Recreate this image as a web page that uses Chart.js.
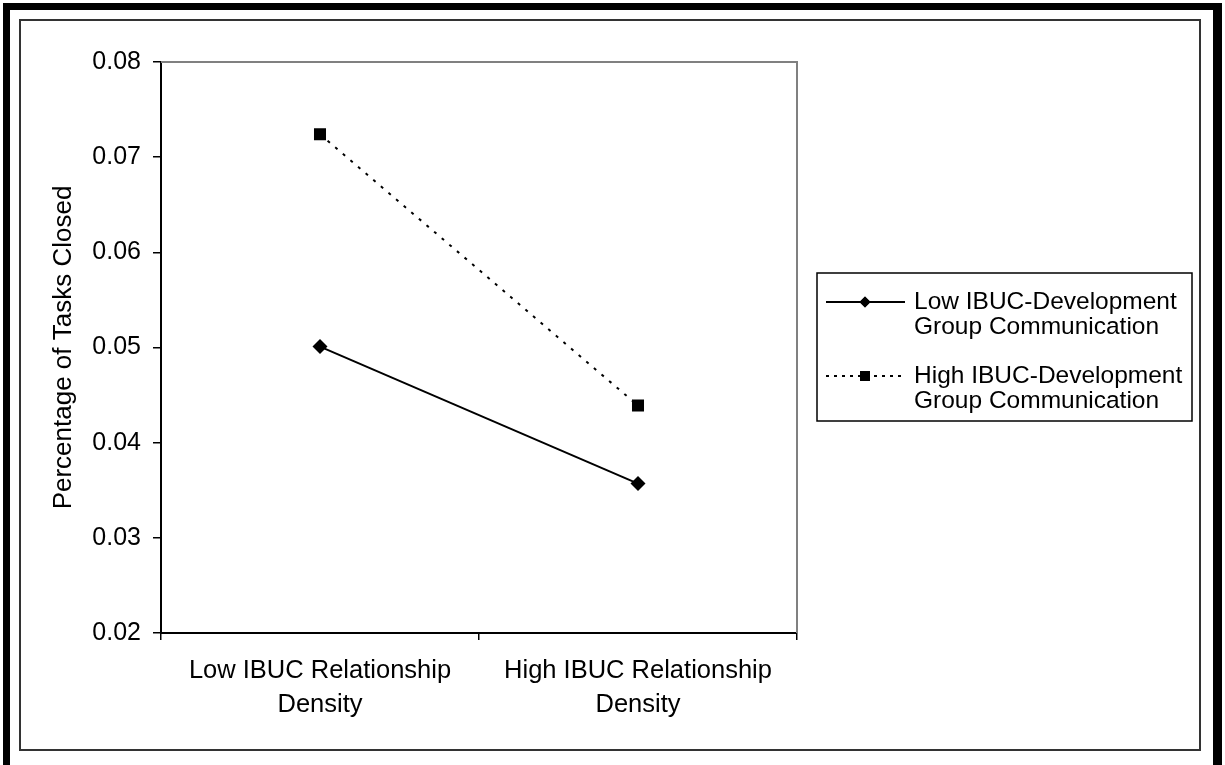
<!DOCTYPE html>
<html>
<head>
<meta charset="utf-8">
<script src="https://cdn.jsdelivr.net/npm/chart.js@4/dist/chart.umd.min.js"></script>
<style>
    html, body { margin: 0; padding: 0; background: #fff; overflow: hidden; }
    .frame {
        position: absolute; left: 3px; top: 3px; width: 1203px; height: 757px;
        border-style: solid; border-color: #000;
        border-width: 7px 9px 7px 7px;
    }
    .inner {
        position: absolute; left: 19px; top: 19px; width: 1178px; height: 728px;
        border: 2px solid #333;
    }
    #chart { position: absolute; left: 21px; top: 21px; }
</style>
</head>
<body>
<div class="frame"></div>
<div class="inner"></div>
<canvas id="chart" width="1177" height="727"></canvas>
<script>
    const categories = [["Low IBUC Relationship", "Density"], ["High IBUC Relationship", "Density"]];
    const lowComm = [0.0501, 0.0357];
    const highComm = [0.0724, 0.0439];
    const seriesLabels = [["Low IBUC-Development", "Group Communication"], ["High IBUC-Development", "Group Communication"]];
    const yTicks = [0.02, 0.03, 0.04, 0.05, 0.06, 0.07, 0.08];

    const font = { family: "'Liberation Sans', Arial, sans-serif", size: 25 };

    // grey frame on top/right of the plot, axes drawn black by the scales
    const plotFrame = {
        id: "plotFrame",
        beforeDatasetsDraw(chart) {
            const { ctx, chartArea: a } = chart;
            ctx.save();
            ctx.strokeStyle = "#808080";
            ctx.lineWidth = 2;
            ctx.beginPath();
            ctx.moveTo(a.left, a.top);
            ctx.lineTo(a.right, a.top);
            ctx.lineTo(a.right, a.bottom);
            ctx.stroke();
            ctx.restore();
        }
    };

    // boxed legend with two-line entries, like the Excel one
    const boxLegend = {
        id: "boxLegend",
        afterDraw(chart) {
            const { ctx, chartArea: a } = chart;
            const x0 = a.right + 20, y0 = 252, w = 375, h = 148;
            ctx.save();
            ctx.strokeStyle = "#000";
            ctx.lineWidth = 1.5;
            ctx.strokeRect(x0, y0, w, h);
            ctx.font = `24.5px ${font.family}`;
            ctx.fillStyle = "#000";
            ctx.textBaseline = "middle";
            chart.data.datasets.forEach((ds, i) => {
                const y = y0 + 29 + i * 74;
                ctx.beginPath();
                ctx.setLineDash(ds.borderDash ? [3, 5] : []);
                ctx.lineWidth = 2;
                ctx.moveTo(x0 + 9, y);
                ctx.lineTo(x0 + 88, y);
                ctx.stroke();
                ctx.setLineDash([]);
                Chart.helpers.drawPoint(ctx, { pointStyle: ds.pointStyle, radius: ds.pointStyle === "rect" ? 7 : 5.5, borderWidth: 0 }, x0 + 48, y);
                ctx.fill();
                ds.label.forEach((line, j) => ctx.fillText(line, x0 + 97, y + j * 25.5));
            });
            ctx.restore();
        }
    };

    new Chart(document.getElementById("chart"), {
        type: "line",
        data: {
            labels: categories,
            datasets: [
                {
                    label: seriesLabels[0],
                    data: lowComm,
                    borderColor: "#000",
                    backgroundColor: "#000",
                    borderWidth: 2,
                    pointStyle: "rectRot",
                    pointRadius: 7.5,
                    pointBorderWidth: 0
                },
                {
                    label: seriesLabels[1],
                    data: highComm,
                    borderColor: "#000",
                    backgroundColor: "#000",
                    borderWidth: 2,
                    borderDash: [3, 7],
                    pointStyle: "rect",
                    pointRadius: 8.5,
                    pointBorderWidth: 0
                }
            ]
        },
        options: {
            responsive: false,
            animation: false,
            layout: { padding: { top: 41, right: 401, left: 0, bottom: 0 } },
            scales: {
                x: {
                    offset: true,
                    grid: { offset: true, drawOnChartArea: false, tickLength: 7, color: "#000", lineWidth: 1.5 },
                    border: { color: "#000", width: 2 },
                    ticks: { color: "#000", font: { ...font, size: 25.5, lineHeight: 1.34 }, padding: 14, maxRotation: 0 },
                    afterFit: s => { s.height = 115; }
                },
                y: {
                    min: 0.02,
                    max: 0.08,
                    afterBuildTicks: s => { s.ticks = yTicks.map(v => ({ value: v })); },
                    grid: { drawOnChartArea: false, tickLength: 8, color: "#000", lineWidth: 1.5 },
                    border: { color: "#000", width: 2 },
                    ticks: { color: "#000", font, padding: 12, callback: v => v.toFixed(2) },
                    title: { display: true, text: "Percentage of Tasks Closed", color: "#000", font: { ...font, size: 26 }, padding: { top: 27, bottom: 0 } },
                    afterFit: s => { s.width = 140; }
                }
            },
            plugins: {
                legend: { display: false },
                tooltip: { enabled: false }
            }
        },
        plugins: [plotFrame, boxLegend]
    });
</script>
</body>
</html>
